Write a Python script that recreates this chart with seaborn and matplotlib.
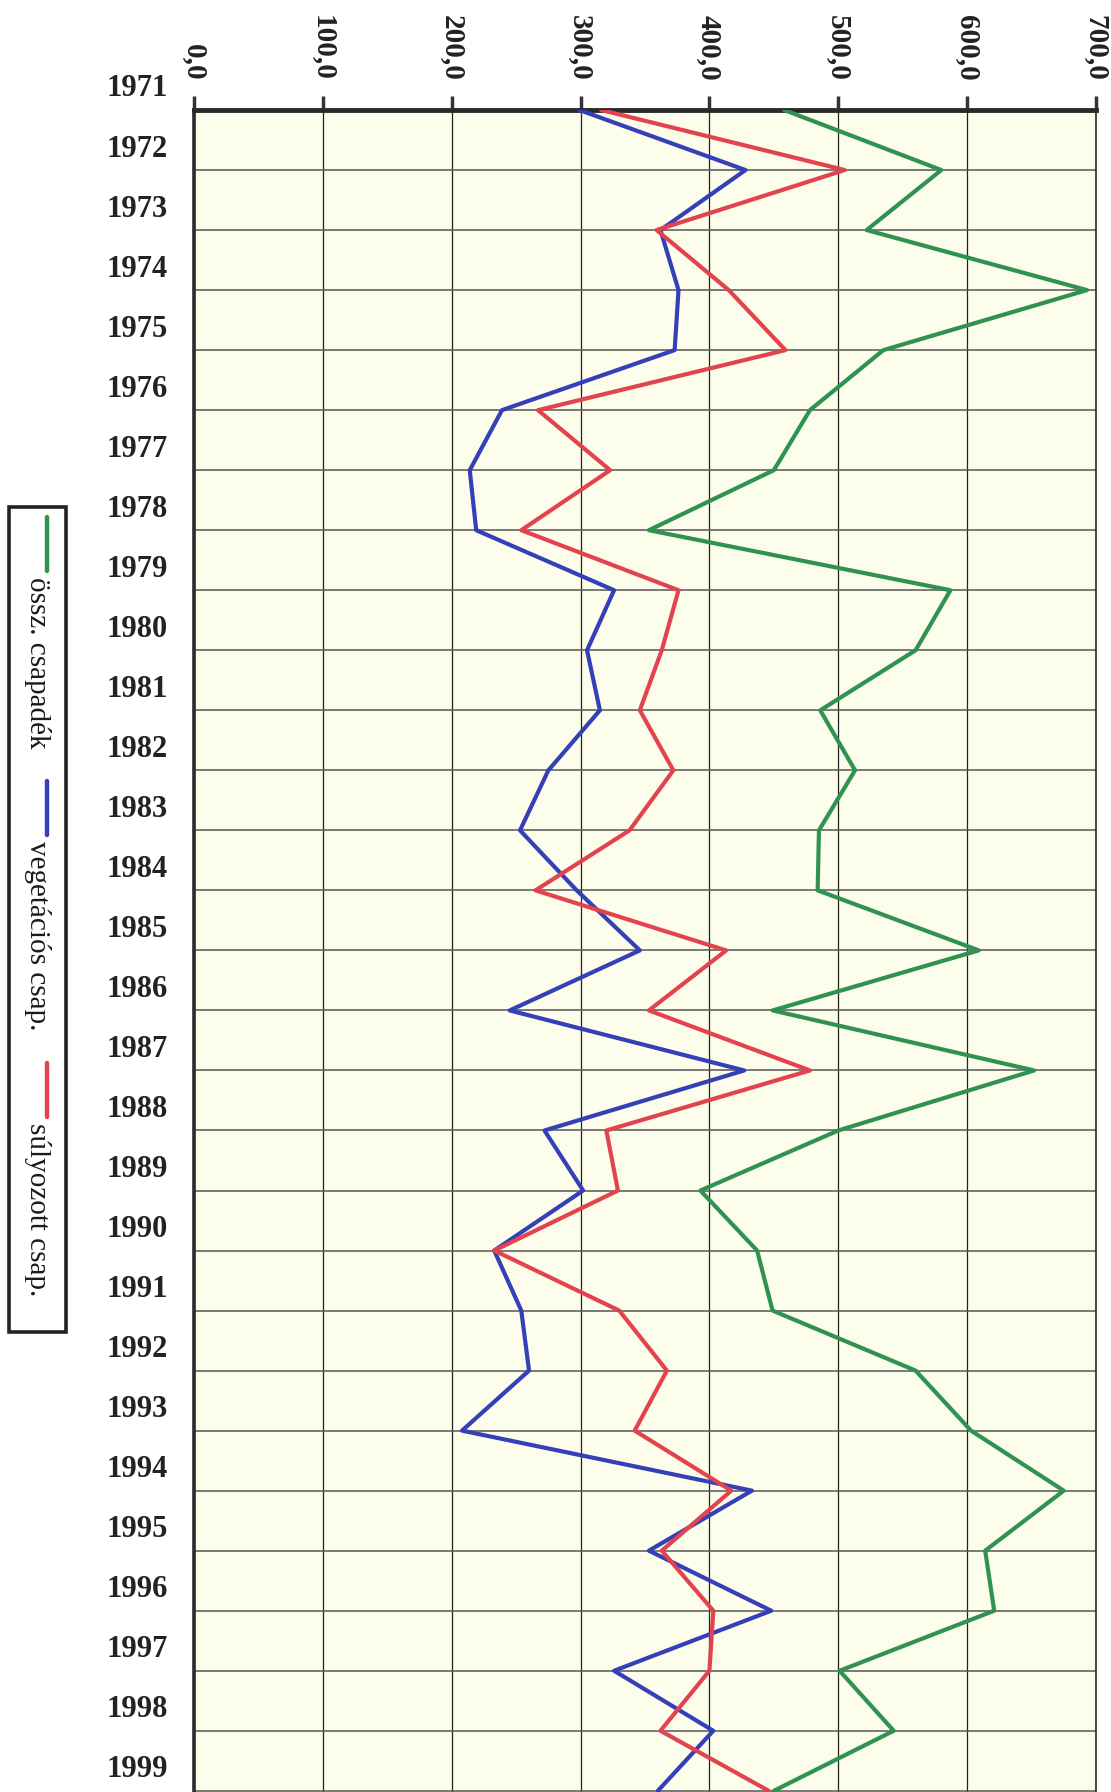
import matplotlib
matplotlib.use("Agg")
import matplotlib.pyplot as plt
import matplotlib.transforms as mtransforms
import seaborn as sns
import pandas as pd
import numpy as np
from matplotlib.lines import Line2D
from matplotlib.patches import Rectangle

# ---- data -------------------------------------------------------------
years = list(range(1971, 2000))

ossz_csapadek = [458, 580, 522, 693, 535, 478, 450, 353, 587, 560,
                 486, 513, 485, 484, 609, 449, 652, 500, 393, 437,
                 449, 560, 603, 675, 614, 621, 501, 543, 450]

vegetacios_csap = [299, 428, 362, 376, 373, 239, 214, 219, 326, 305,
                   315, 275, 253, 297, 346, 245, 427, 272, 302, 233,
                   254, 260, 208, 433, 353, 448, 326, 403, 360]

sulyozott_csap = [316, 505, 359, 415, 459, 267, 323, 254, 376, 363,
                  346, 372, 338, 265, 413, 353, 478, 320, 329, 233,
                  330, 367, 342, 417, 363, 403, 400, 362, 446]

series_names = ["össz. csapadék", "vegetációs csap.", "súlyozott csap."]
series_colors = ["#2f9250", "#3440b8", "#e2434f"]

value_ticks = [0, 100, 200, 300, 400, 500, 600, 700]
value_tick_labels = ["0,0", "100,0", "200,0", "300,0", "400,0", "500,0", "600,0", "700,0"]

# ---- figure -----------------------------------------------------------
W, H = 1111, 1792
sns.set_style("white")
plt.rcParams["font.family"] = ["Liberation Serif", "DejaVu Serif"]

fig = plt.figure(figsize=(W / 100, H / 100), dpi=100)
fig.patch.set_facecolor("white")

ax_left, ax_right, ax_top = 194, 1096, 110
ax = fig.add_axes([ax_left / W, 0.0, (ax_right - ax_left) / W, (H - ax_top) / H])
ax.set_facecolor("#fdfdec")

long = pd.DataFrame({
    "year": years * 3,
    "value": ossz_csapadek + vegetacios_csap + sulyozott_csap,
    "series": [series_names[0]] * len(years) + [series_names[1]] * len(years)
              + [series_names[2]] * len(years),
})

sns.lineplot(data=long, x="value", y="year", hue="series", orient="y",
             palette=dict(zip(series_names, series_colors)),
             linewidth=3.0, legend=False, ax=ax, zorder=3)

# value axis on top, rotated labels
ax.xaxis.set_ticks_position("top")
ax.xaxis.set_label_position("top")
ax.set_xticks(value_ticks)
ax.set_xticklabels(value_tick_labels, rotation=270, fontsize=21,
                   fontweight="bold", color="#222222")
ax.tick_params(axis="x", which="major", direction="out", length=10,
               width=2.5, color="#333333", pad=11)

# year axis: tick marks at the gridlines
ax.set_yticks(years)
ax.set_yticklabels([])
ax.tick_params(axis="y", which="major", direction="inout", length=16,
               width=2.5, color="#333333")

ax.set_xlim(0, 700)
ax.set_ylim(1999.02, 1971)

# year labels sit a little above their gridline
label_tr = mtransforms.blended_transform_factory(ax.transAxes, ax.transData)
for y in years:
    ax.text(-0.029, y - 0.35, str(y), transform=label_tr, ha="right",
            va="center", fontsize=22, fontweight="bold", color="#222222",
            clip_on=False)

ax.grid(True, which="major", axis="x", color="#222222", linewidth=0.9)
ax.grid(True, which="major", axis="y", color="#555555", linewidth=1.1)
ax.set_axisbelow(True)

ax.set_xlabel("")
ax.set_ylabel("")
for side, lw in [("top", 3.5), ("left", 2.6), ("right", 1.2)]:
    ax.spines[side].set_visible(True)
    ax.spines[side].set_linewidth(lw)
    ax.spines[side].set_color("#2a2a2a")
ax.spines["bottom"].set_visible(False)

# ---- rotated legend box on the left -----------------------------------
def fy(py):
    return (H - py) / H

box_x0, box_x1, box_y0, box_y1 = 9, 66, 507, 1332
fig.add_artist(Rectangle((box_x0 / W, fy(box_y1)), (box_x1 - box_x0) / W,
                         (box_y1 - box_y0) / H, transform=fig.transFigure,
                         facecolor="white", edgecolor="#222222", linewidth=2.6))

entry_tops = [517, 781, 1063]
for name, color, top in zip(series_names, series_colors, entry_tops):
    fig.add_artist(Line2D([47 / W, 47 / W], [fy(top), fy(top + 54)],
                          transform=fig.transFigure, color=color,
                          linewidth=3.2, solid_capstyle="round"))
    fig.text(37 / W, fy(top + 60), name, rotation=270, ha="center", va="top",
             fontsize=21, color="#1a1a1a")

fig.savefig("out.png", dpi=100)
